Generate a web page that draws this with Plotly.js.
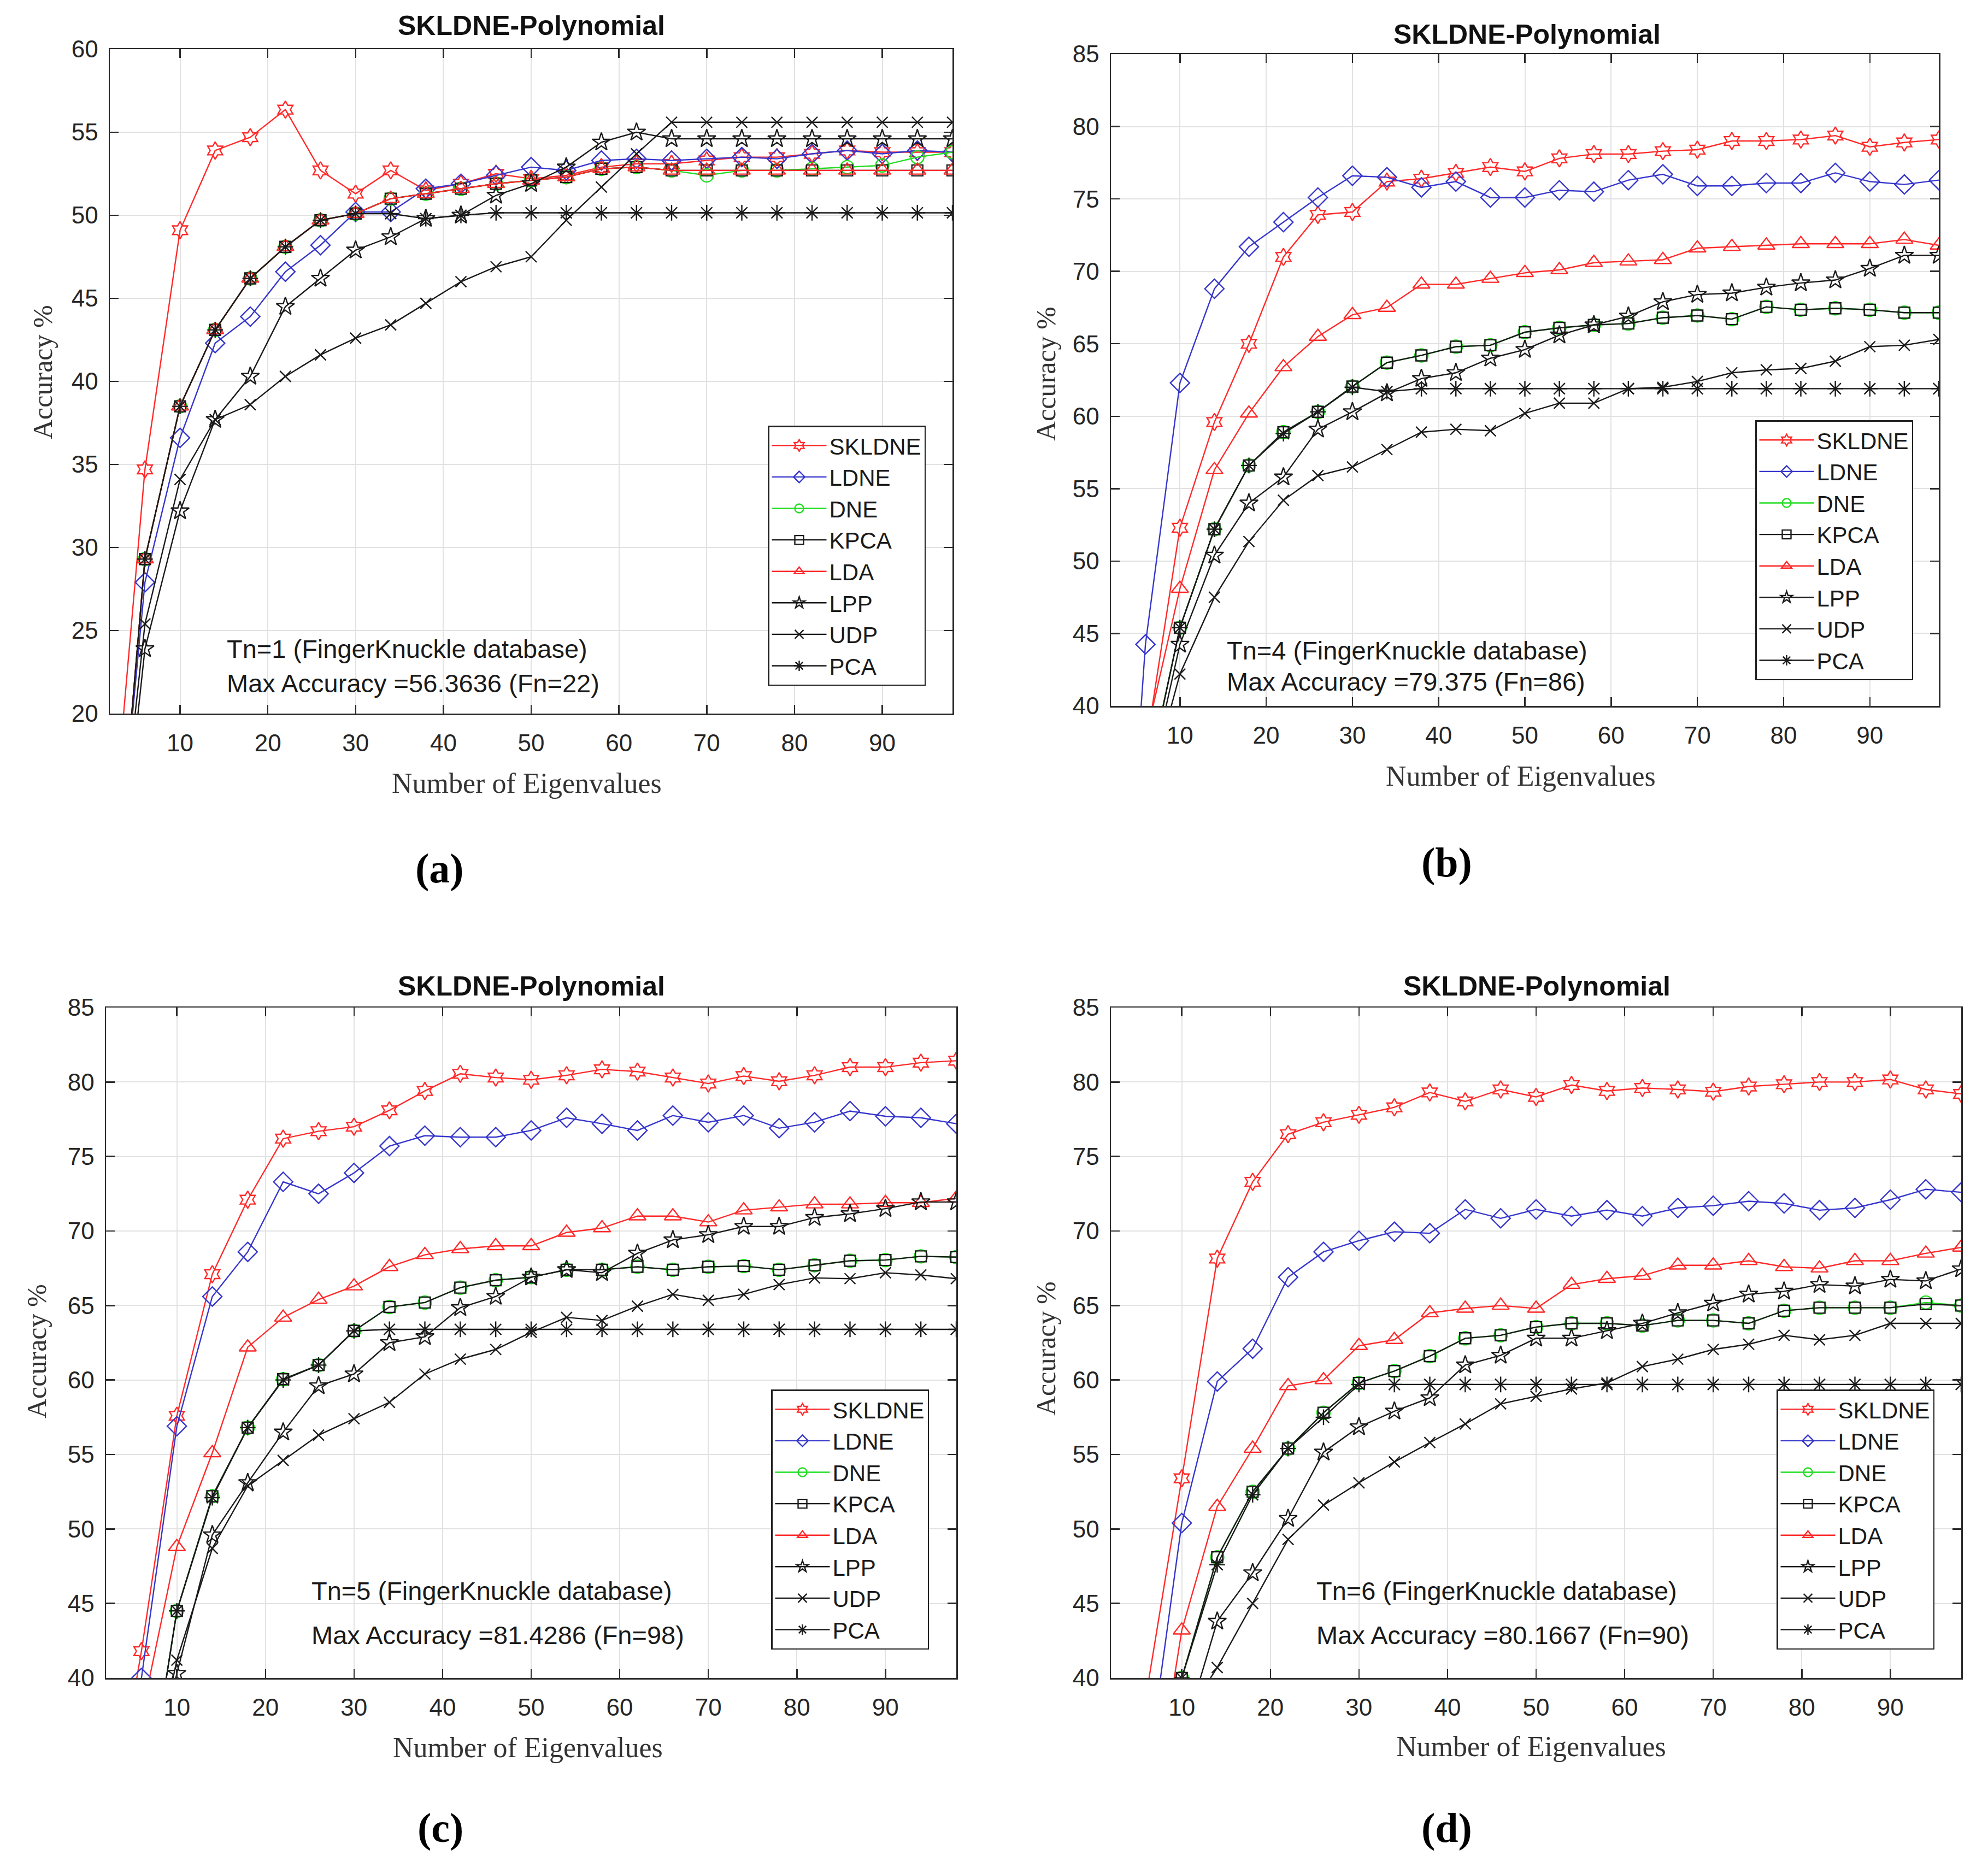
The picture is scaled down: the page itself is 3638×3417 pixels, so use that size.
<!DOCTYPE html>
<html>
<head>
<meta charset="utf-8">
<script src="https://cdn.plot.ly/plotly-3.0.1.min.js"></script>
<style>html,body{margin:0;padding:0;background:#fff;}#chart{width:3638px;height:3417px;}</style>
</head>
<body>
<div id="chart"></div>
<script>
// ---------- DATA ----------
const xs = [2,6,10,14,18,22,26,30,34,38,42,46,50,54,58,62,66,70,74,78,82,86,90,94,98];
const seriesNames = ['SKLDNE','LDNE','DNE','KPCA','LDA','LPP','UDP','PCA'];

// (a) Tn=1
const a_SKLDNE = [10.5,34.7,49.1,53.9,54.7,56.36,52.7,51.3,52.7,51.5,51.9,52.5,52.2,52.4,52.9,53.1,53.1,53.3,53.5,53.5,53.7,53.9,53.8,53.8,53.8];
const a_LDNE   = [5.5,27.9,36.6,42.3,43.9,46.6,48.2,50.2,50.2,51.6,51.9,52.4,52.9,52.7,53.3,53.4,53.3,53.4,53.5,53.4,53.7,53.9,53.7,53.9,53.8];
const a_DNE    = [4.5,29.3,38.5,43.1,46.2,48.1,49.7,50.1,51.0,51.3,51.6,51.9,52.1,52.3,52.8,52.9,52.7,52.4,52.7,52.7,52.8,52.9,53.0,53.5,53.8];
const a_KPCA   = [4.5,29.3,38.5,43.1,46.2,48.1,49.7,50.1,51.0,51.3,51.6,51.9,52.1,52.3,52.8,52.9,52.7,52.7,52.7,52.7,52.7,52.7,52.7,52.7,52.7];
const a_LDA    = [4.5,29.3,38.5,43.1,46.2,48.1,49.7,50.1,51.0,51.3,51.6,51.9,52.1,52.3,52.8,52.9,52.7,52.7,52.7,52.7,52.7,52.7,52.7,52.7,52.7];
const a_LPP    = [4.3,23.9,32.2,37.7,40.3,44.5,46.2,47.9,48.7,49.8,50.0,51.2,51.9,52.9,54.4,55.0,54.6,54.6,54.6,54.6,54.6,54.6,54.6,54.6,54.6];
const a_UDP    = [6.0,25.4,34.1,37.7,38.6,40.3,41.6,42.6,43.4,44.7,46.0,46.9,47.5,49.7,51.7,53.7,55.6,55.6,55.6,55.6,55.6,55.6,55.6,55.6,55.6];
const a_PCA    = [4.5,29.3,38.5,43.1,46.2,48.1,49.7,50.1,50.1,49.8,50.0,50.15,50.15,50.15,50.15,50.15,50.15,50.15,50.15,50.15,50.15,50.15,50.15,50.15,50.15];

// (b) Tn=4
const b_SKLDNE = [null,36.9,52.3,59.6,65.0,71.0,73.9,74.1,76.2,76.4,76.8,77.2,76.9,77.8,78.1,78.1,78.3,78.4,79.0,79.0,79.1,79.375,78.6,78.9,79.1];
const b_LDNE   = [10,44.25,62.3,68.8,71.7,73.4,75.1,76.6,76.5,75.8,76.2,75.1,75.1,75.6,75.5,76.3,76.7,75.9,75.9,76.1,76.1,76.8,76.2,76.0,76.3];
const b_DNE    = [null,34.3,45.4,52.2,56.6,58.9,60.3,62.05,63.7,64.2,64.8,64.9,65.8,66.1,66.3,66.4,66.8,66.95,66.7,67.55,67.35,67.45,67.35,67.15,67.15];
const b_KPCA   = [null,34.3,45.4,52.2,56.6,58.9,60.3,62.05,63.7,64.2,64.8,64.9,65.8,66.1,66.3,66.4,66.8,66.95,66.7,67.55,67.35,67.45,67.35,67.15,67.15];
const b_LDA    = [null,37.7,48.1,56.3,60.2,63.4,65.5,67.0,67.5,69.1,69.1,69.5,69.9,70.1,70.6,70.7,70.8,71.6,71.7,71.8,71.9,71.9,71.9,72.2,71.8];
const b_LPP    = [null,33.6,44.25,50.4,54.0,55.8,59.1,60.3,61.6,62.6,63.0,64.0,64.6,65.6,66.3,66.9,67.9,68.4,68.5,68.9,69.2,69.4,70.2,71.1,71.1];
const b_UDP    = [null,33.4,42.2,47.5,51.35,54.2,55.9,56.5,57.7,58.9,59.1,59.0,60.2,60.9,60.9,61.9,62.0,62.4,63.0,63.2,63.3,63.8,64.8,64.9,65.3];
const b_PCA    = [null,34.3,45.4,52.2,56.6,58.8,60.3,62.0,61.7,61.9,61.9,61.9,61.9,61.9,61.9,61.9,61.9,61.9,61.9,61.9,61.9,61.9,61.9,61.9,61.9];

// (c) Tn=5
const c_SKLDNE = [28,41.8,57.6,67.1,72.1,76.2,76.7,77.0,78.1,79.4,80.55,80.3,80.15,80.45,80.85,80.7,80.3,79.9,80.4,80.05,80.45,81.0,81.0,81.3,81.43];
const c_LDNE   = [25,40.0,56.9,65.6,68.6,73.3,72.5,73.9,75.7,76.4,76.3,76.3,76.75,77.6,77.2,76.75,77.75,77.3,77.75,76.9,77.3,78.05,77.7,77.6,77.2];
const c_DNE    = [null,29.4,44.5,52.2,56.8,60.05,61.0,63.3,64.9,65.2,66.2,66.7,66.9,67.4,67.4,67.6,67.4,67.6,67.65,67.4,67.7,68.0,68.05,68.3,68.25];
const c_KPCA   = [null,29.4,44.5,52.2,56.8,60.05,61.0,63.3,64.9,65.2,66.2,66.7,66.9,67.4,67.4,67.6,67.4,67.6,67.65,67.4,67.7,68.0,68.05,68.3,68.25];
const c_LDA    = [null,37.4,48.8,55.1,62.2,64.2,65.4,66.3,67.6,68.4,68.8,69.0,69.0,69.9,70.2,71.0,71.0,70.6,71.4,71.6,71.8,71.8,71.9,71.9,72.2];
const c_LPP    = [null,30,40.3,49.6,53.1,56.5,59.6,60.4,62.5,62.9,64.85,65.6,66.9,67.4,67.2,68.5,69.4,69.75,70.3,70.3,70.9,71.15,71.5,71.95,71.95];
const c_UDP    = [null,30,41.2,48.7,52.9,54.6,56.3,57.4,58.5,60.4,61.4,62.05,63.2,64.2,64.0,64.95,65.75,65.35,65.75,66.4,66.85,66.8,67.2,67.05,66.8];
const c_PCA    = [null,29.4,44.5,52.1,56.8,60.0,61.0,63.3,63.4,63.4,63.4,63.4,63.4,63.4,63.4,63.4,63.4,63.4,63.4,63.4,63.4,63.4,63.4,63.4,63.4];

// (d) Tn=6
const d_SKLDNE = [null,38.9,53.4,68.15,73.3,76.5,77.3,77.8,78.3,79.3,78.7,79.5,79.0,79.8,79.4,79.6,79.5,79.35,79.7,79.85,80.0,80.0,80.17,79.5,79.2];
const d_LDNE   = [null,33.1,50.4,59.9,62.1,66.9,68.6,69.35,69.95,69.85,71.45,70.85,71.45,71.0,71.4,71.0,71.55,71.7,72.0,71.85,71.4,71.55,72.1,72.8,72.6];
const d_DNE    = [null,30,40.0,48.1,52.5,55.4,57.8,59.8,60.6,61.6,62.8,63.0,63.55,63.8,63.8,63.65,64.0,64.0,63.8,64.65,64.85,64.85,64.85,65.2,65.0];
const d_KPCA   = [null,30,40.0,48.1,52.5,55.4,57.8,59.8,60.6,61.6,62.8,63.0,63.55,63.8,63.8,63.65,64.0,64.0,63.8,64.65,64.85,64.85,64.85,65.1,65.0];
const d_LDA    = [null,28.2,43.2,51.5,55.4,59.6,60.0,62.3,62.7,64.5,64.8,65.0,64.8,66.4,66.8,67.0,67.7,67.7,68.0,67.6,67.5,68.0,68.0,68.5,68.9];
const d_LPP    = [null,null,35.8,43.8,47.05,50.7,55.15,56.85,57.9,58.8,61.0,61.65,62.8,62.8,63.3,63.8,64.5,65.15,65.75,65.95,66.4,66.3,66.75,66.65,67.45];
const d_UDP    = [null,null,37,40.7,45.0,49.3,51.6,53.1,54.5,55.8,57.05,58.4,58.9,59.4,59.8,60.9,61.4,62.05,62.4,63.0,62.7,63.0,63.8,63.8,63.8];
const d_PCA    = [null,30,40.0,47.6,52.3,55.4,57.5,59.7,59.7,59.7,59.7,59.7,59.7,59.7,59.7,59.7,59.7,59.7,59.7,59.7,59.7,59.7,59.7,59.7,59.7];

const panelTitles = ['SKLDNE-Polynomial','SKLDNE-Polynomial','SKLDNE-Polynomial','SKLDNE-Polynomial'];
const panelLabels = ['(a)','(b)','(c)','(d)'];
const infoLine1 = ['Tn=1 (FingerKnuckle database)','Tn=4 (FingerKnuckle database)','Tn=5 (FingerKnuckle database)','Tn=6 (FingerKnuckle database)'];
const infoLine2 = ['Max Accuracy =56.3636 (Fn=22)','Max Accuracy =79.375 (Fn=86)','Max Accuracy =81.4286 (Fn=98)','Max Accuracy =80.1667 (Fn=90)'];
const xTitle = 'Number of Eigenvalues';
const yTitle = 'Accuracy %';
const xTickVals = [10,20,30,40,50,60,70,80,90];
const yRanges = [[20,60],[40,85],[40,85],[40,85]];

const panels = [
  [a_SKLDNE,a_LDNE,a_DNE,a_KPCA,a_LDA,a_LPP,a_UDP,a_PCA],
  [b_SKLDNE,b_LDNE,b_DNE,b_KPCA,b_LDA,b_LPP,b_UDP,b_PCA],
  [c_SKLDNE,c_LDNE,c_DNE,c_KPCA,c_LDA,c_LPP,c_UDP,c_PCA],
  [d_SKLDNE,d_LDNE,d_DNE,d_KPCA,d_LDA,d_LPP,d_UDP,d_PCA]
];

// ---------- STYLE / LAYOUT ----------
const W = 3638, H = 3417;
const px = v => v / W, py = v => 1 - v / H;
const styles = {
  SKLDNE: {color:'#ff2a2a', symbol:'hexagram-open', size:24},
  LDNE:   {color:'#3636cc', symbol:'diamond-open', size:27},
  DNE:    {color:'#22dd22', symbol:'circle-open', size:24},
  KPCA:   {color:'#1a1a1a', symbol:'square-open', size:20},
  LDA:    {color:'#ff2a2a', symbol:'triangle-up-open', size:27},
  LPP:    {color:'#1a1a1a', symbol:'star-open', size:25},
  UDP:    {color:'#1a1a1a', symbol:'x-thin-open', size:20},
  PCA:    {color:'#1a1a1a', symbol:'asterisk-open', size:24}
};
// plot boxes in pixels [left, right, top, bottom]
const boxes = [[201,1743,90,1306],[2033,3548,99,1292],[194,1750,1844,3071],[2033,3589,1844,3071]];
const legendPos = [[1694,1255],[3501,1245],[1700,3019],[3540,3019]];
const titlePos = [[972,47],[2794,63],[972,1805],[2812,1805]];
const xlabPos = [[964,1433],[2783,1420],[966,3198],[2802,3196]];
const ylabPos = [[78,681],[1914,684],[67,2473],[1914,2468]];
const labPos = [[804,1589],[2647,1578],[806,3345],[2647,3345]];
const infoPos = [[413,1187,1250],[2243,1191,1247],[568,2911,2992],[2407,2911,2992]];

const sans = 'Liberation Sans, Arial, sans-serif';
const serif = 'Liberation Serif, Times New Roman, serif';

const traces = [];
const layout = {
  width: W, height: H,
  margin: {l:0, r:0, t:0, b:0},
  paper_bgcolor: '#ffffff', plot_bgcolor: '#ffffff',
  showlegend: true,
  annotations: []
};

panels.forEach((series, p) => {
  const n = p + 1;
  const xa = n === 1 ? 'x' : 'x' + n;
  const ya = n === 1 ? 'y' : 'y' + n;
  const lg = n === 1 ? 'legend' : 'legend' + n;
  series.forEach((vals, s) => {
    const name = seriesNames[s];
    const st = styles[name];
    traces.push({
      type: 'scatter', mode: 'lines+markers', name: name,
      x: xs, y: vals, xaxis: xa, yaxis: ya, legend: lg,
      line: {color: st.color, width: 2.4},
      marker: {symbol: st.symbol, size: st.size, color: st.color, line: {color: st.color, width: 2.4}},
      hoverinfo: 'skip'
    });
  });
  const b = boxes[p];
  const axCommon = {
    showgrid: true, gridcolor: '#e2e2e2', gridwidth: 2,
    showline: true, linecolor: '#2b2b2b', linewidth: 2.5, mirror: 'ticks',
    ticks: 'inside', ticklen: 16, tickwidth: 2.5, tickcolor: '#2b2b2b',
    tickfont: {family: sans, size: 44, color: '#262626'},
    zeroline: false, fixedrange: true
  };
  layout['xaxis' + (n === 1 ? '' : n)] = Object.assign({}, axCommon, {
    domain: [px(b[0]), px(b[1])], anchor: ya, range: [2, 98],
    tickmode: 'array', tickvals: xTickVals, ticklabelstandoff: 14
  });
  layout['yaxis' + (n === 1 ? '' : n)] = Object.assign({}, axCommon, {
    domain: [py(b[3]), py(b[2])], anchor: xa, range: yRanges[p],
    dtick: 5, tick0: 0, ticklabelstandoff: 10
  });
  layout[lg] = {
    x: px(legendPos[p][0]), y: py(legendPos[p][1]), xanchor: 'right', yanchor: 'bottom',
    xref: 'paper', yref: 'paper',
    bgcolor: '#ffffff', bordercolor: '#222222', borderwidth: 2.5,
    font: {family: sans, size: 42, color: '#1a1a1a'},
    itemwidth: 100, tracegroupgap: 0
  };
  const A = layout.annotations;
  A.push({text: '<b>' + panelTitles[p] + '</b>', x: px(titlePos[p][0]), y: py(titlePos[p][1]),
          xref: 'paper', yref: 'paper', xanchor: 'center', yanchor: 'middle', showarrow: false,
          font: {family: sans, size: 50, color: '#111'}});
  A.push({text: xTitle, x: px(xlabPos[p][0]), y: py(xlabPos[p][1]),
          xref: 'paper', yref: 'paper', xanchor: 'center', yanchor: 'middle', showarrow: false,
          font: {family: serif, size: 52, color: '#333'}});
  A.push({text: yTitle, x: px(ylabPos[p][0]), y: py(ylabPos[p][1]), textangle: -90,
          xref: 'paper', yref: 'paper', xanchor: 'center', yanchor: 'middle', showarrow: false,
          font: {family: serif, size: 50, color: '#333'}});
  A.push({text: '<b>' + panelLabels[p] + '</b>', x: px(labPos[p][0]), y: py(labPos[p][1]),
          xref: 'paper', yref: 'paper', xanchor: 'center', yanchor: 'middle', showarrow: false,
          font: {family: serif, size: 76, color: '#000'}});
  A.push({text: infoLine1[p], x: px(infoPos[p][0]), y: py(infoPos[p][1]),
          xref: 'paper', yref: 'paper', xanchor: 'left', yanchor: 'middle', showarrow: false,
          font: {family: sans, size: 47, color: '#1a1a1a'}});
  A.push({text: infoLine2[p], x: px(infoPos[p][0]), y: py(infoPos[p][2]),
          xref: 'paper', yref: 'paper', xanchor: 'left', yanchor: 'middle', showarrow: false,
          font: {family: sans, size: 47, color: '#1a1a1a'}});
});

Plotly.newPlot('chart', traces, layout, {displayModeBar: false, staticPlot: true});
</script>
</body>
</html>
